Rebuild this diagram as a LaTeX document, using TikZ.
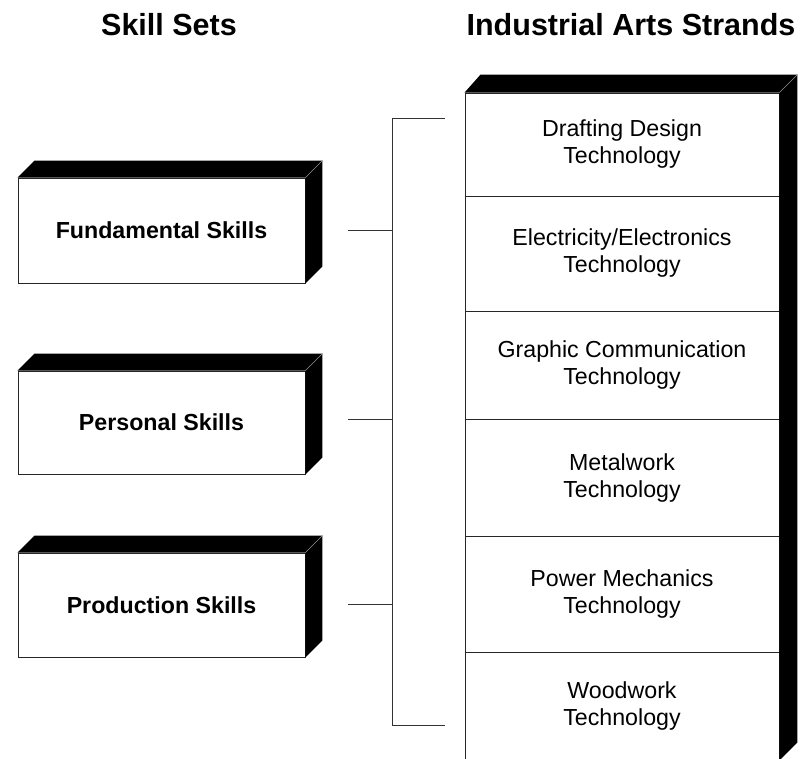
\documentclass[tikz,border=0pt]{standalone}
\usepackage{fontspec}
\setmainfont{Liberation Sans}
\usetikzlibrary{calc}
\tikzset{
  front/.style={draw=black!85, line width=0.9pt, fill=white, inner sep=0pt, align=center},
  skillbox/.style={front, minimum width=287pt, minimum height=105pt, font=\fontsize{23.2}{27}\selectfont\bfseries},
  strand/.style={front, minimum width=314pt, font=\fontsize{23.2}{27}\selectfont},
  title/.style={anchor=base, font=\fontsize{30.5}{36}\selectfont\bfseries},
  shade/.style={fill=black},
  edge/.style={draw=black!45, line width=0.6pt},
  conn/.style={draw=black!80, line width=1pt},
}
\newcommand{\threed}[2]{% node name, depth
  \fill[shade] (#1.north west) -- ++(#2,#2) -- ($(#1.north east)+(#2,#2)$) -- (#1.north east) -- cycle;
  \fill[shade] (#1.north east) -- ++(#2,#2) -- ($(#1.south east)+(#2,#2)$) -- (#1.south east) -- cycle;
  \draw[edge] (#1.north east) -- ++(#2,#2);
}
\begin{document}
\begin{tikzpicture}[x=1pt,y=-1pt]
\useasboundingbox (0,0) rectangle (802,759);
\clip (0,0) rectangle (802,759);

\node[title] (t1) at (169,36) {Skill Sets};
\node[title] (t2) at (631,36) {Industrial Arts Strands};

% skill boxes
\node[skillbox] (fund) at (161.5,230.5) {Fundamental Skills};
\node[skillbox, minimum height=103pt] (pers) at (161.5,422.5) {Personal Skills};
\node[skillbox, minimum height=104pt] (prod) at (161.5,605) {Production Skills};
\begin{scope}[y=1pt]
\threed{fund}{17}
\threed{pers}{17}
\threed{prod}{17}
\end{scope}

% strands column
\node[strand, minimum height=103pt] (s1) at (622,144.5) {Drafting Design\\Technology};
\node[strand, minimum height=115pt] (s2) at (622,253.5) {Electricity/Electronics\\Technology};
\node[strand, minimum height=108pt] (s3) at (622,365) {Graphic Communication\\Technology};
\node[strand, minimum height=117pt] (s4) at (622,477.5) {Metalwork\\Technology};
\node[strand, minimum height=116pt] (s5) at (622,594) {Power Mechanics\\Technology};
\node[strand, minimum height=108pt] (s6) at (622,706) {Woodwork\\Technology};
\begin{scope}[y=1pt]
\fill[shade] (s1.north west) -- ++(16,18) -- ($(s1.north east)+(18,18)$) -- (s1.north east) -- cycle;
\fill[shade] (s1.north east) -- ++(18,18) -- ($(s6.south east)+(18,18)$) -- (s6.south east) -- cycle;
\draw[edge] (s1.north east) -- ++(18,18);
\end{scope}

% connectors
\coordinate (bt) at (392,119);
\coordinate (bb) at (392,725);
\coordinate (et) at (445,119);
\coordinate (eb) at (445,725);
\coordinate (f0) at (348,230);
\coordinate (p0) at (348,419);
\coordinate (q0) at (348,604);
\draw[conn] (et) -- (bt) -- (bb) -- (eb);
\draw[conn] (f0) -- (f0 -| bt);
\draw[conn] (p0) -- (p0 -| bt);
\draw[conn] (q0) -- (q0 -| bt);
\end{tikzpicture}
\end{document}
